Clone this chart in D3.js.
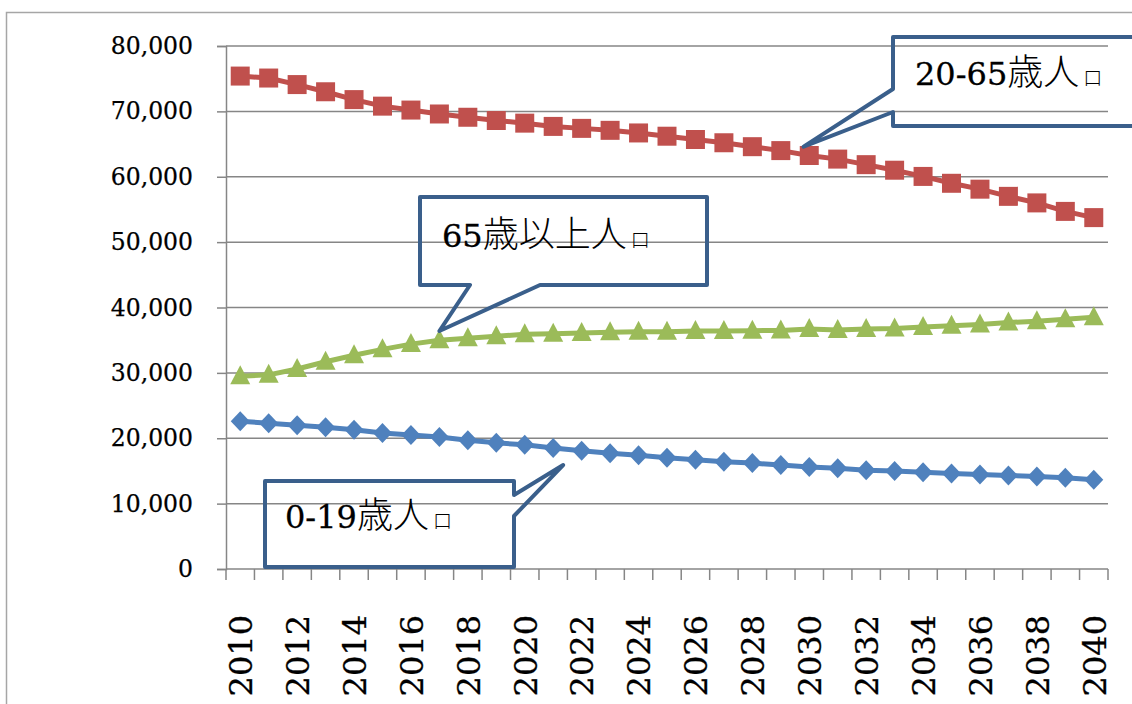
<!DOCTYPE html>
<html>
<head>
<meta charset="utf-8">
<script src="https://cdn.jsdelivr.net/npm/d3@7"></script>
<style>
  body { margin: 0; background: #fff; }
</style>
</head>
<body>
<div id="chart"></div>
<script>
// data (persons)
const years = d3.range(2010, 2041);
const yTicks = [0, 10000, 20000, 30000, 40000, 50000, 60000, 70000, 80000];
const xTickLabels = years.filter(y => y % 2 === 0);

const age0to19 = [22600, 22300, 22000, 21700, 21300, 20800, 20500, 20200, 19700, 19300,
  19000, 18500, 18100, 17700, 17400, 17000, 16700, 16400, 16200, 15900,
  15600, 15400, 15100, 15000, 14800, 14600, 14450, 14300, 14150, 13950, 13650];
const age20to65 = [75400, 75100, 74100, 73000, 71800, 70800, 70200, 69600, 69100, 68600,
  68200, 67700, 67400, 67100, 66700, 66200, 65700, 65200, 64600, 64000,
  63250, 62700, 61850, 61000, 60050, 59000, 58100, 57000, 56000, 54700, 53750];
const age65plus = [29500, 29700, 30600, 31700, 32700, 33600, 34400, 35000, 35300, 35600,
  35900, 36000, 36100, 36200, 36300, 36300, 36400, 36400, 36450, 36500,
  36700, 36550, 36700, 36800, 37000, 37200, 37400, 37700, 37900, 38200, 38500];

const series = [
  { name: "0-19", values: age0to19, color: "#4F81BD", marker: "diamond" },
  { name: "20-65", values: age20to65, color: "#C0504D", marker: "square" },
  { name: "65+", values: age65plus, color: "#9BBB59", marker: "triangle" }
];

// callouts: box in px, tip in data terms (year, value)
const callouts = [
  { num: "20-65", kanji: "歳人", box: [893, 37, 1145, 126], side: "left", notch: [89, 112], tip: [2029.8, 64600], text: [915, 85] },
  { num: "65", kanji: "歳以上人", box: [420, 197, 707, 285], side: "bottom", notch: [470, 540], tip: [2017, 36400], text: [442, 247] },
  { num: "0-19", kanji: "歳人", box: [265, 481, 514, 567], side: "right", notch: [495, 516], tip: [2021.35, 15900], text: [285, 528] }
];

const SERIF = "'DejaVu Serif', serif";
const CJK = "'Noto Sans CJK JP', sans-serif";

const width = 1132, height = 704;
const margin = { top: 46, right: 24, bottom: 135, left: 226 };

const svg = d3.select("#chart").append("svg")
  .attr("width", width)
  .attr("height", height);

// outer chart frame
svg.append("rect")
  .attr("x", 6.5).attr("y", 12.5)
  .attr("width", width + 20).attr("height", height + 20)
  .attr("fill", "none")
  .attr("stroke", "#a6a6a6")
  .attr("stroke-width", 1.5);

const x = d3.scaleBand()
  .domain(years)
  .range([margin.left, width - margin.right])
  .padding(0);

const y = d3.scaleLinear()
  .domain([0, 80000])
  .range([height - margin.bottom, margin.top]);

const xc = d => x(d) + x.bandwidth() / 2;
// fractional year -> px, for callout tips
const xYear = d3.scaleLinear().domain([2010, 2040]).range([xc(2010), xc(2040)]);

// gridlines
svg.append("g")
  .selectAll("line")
  .data(yTicks.filter(t => t > 0))
  .enter().append("line")
  .attr("x1", margin.left).attr("x2", width - margin.right)
  .attr("y1", d => y(d)).attr("y2", d => y(d))
  .attr("stroke", "#868686")
  .attr("stroke-width", 1.5);

// y axis
const yAxis = svg.append("g")
  .attr("transform", "translate(" + margin.left + ",0)")
  .call(d3.axisLeft(y).tickValues(yTicks).tickSize(9).tickPadding(24).tickFormat(d3.format(",")));
yAxis.attr("font-family", SERIF);
yAxis.select(".domain").attr("stroke", "#868686").attr("stroke-width", 1.5);
yAxis.selectAll(".tick line").attr("stroke", "#868686").attr("stroke-width", 1.5);
yAxis.selectAll("text")
  .style("font-family", SERIF)
  .style("font-size", "23.5px")
  .attr("fill", "#000")
  .attr("stroke", "#000")
  .attr("stroke-width", 0.25);

// x axis: ticks on category boundaries
const xAxisG = svg.append("g")
  .attr("transform", "translate(0," + y(0) + ")");
xAxisG.append("line")
  .attr("x1", margin.left).attr("x2", width - margin.right)
  .attr("stroke", "#868686").attr("stroke-width", 1.5);
xAxisG.selectAll(".tk")
  .data(years.concat([2041]))
  .enter().append("line")
  .attr("class", "tk")
  .attr("x1", d => d === 2041 ? x(2040) + x.bandwidth() : x(d))
  .attr("x2", d => d === 2041 ? x(2040) + x.bandwidth() : x(d))
  .attr("y1", 0).attr("y2", 11)
  .attr("stroke", "#868686").attr("stroke-width", 1.5);
xAxisG.selectAll(".lbl")
  .data(xTickLabels)
  .enter().append("text")
  .attr("class", "lbl")
  .attr("transform", d => "translate(" + xc(d) + ",46) rotate(-90)")
  .attr("dy", "0.37em")
  .attr("text-anchor", "end")
  .attr("stroke", "#000")
  .attr("stroke-width", 0.3)
  .style("font-family", SERIF)
  .style("font-size", "32px")
  .text(d => d);

// lines + markers
const line = d3.line()
  .x((d, i) => xc(years[i]))
  .y(d => y(d));

const symbols = {
  diamond: "M0,-10L9.5,0L0,10L-9.5,0Z",
  square: "M-9.5,-9.5H9.5V9.5H-9.5Z",
  triangle: "M0,-11L10,8H-10Z"
};

series.forEach(s => {
  svg.append("path")
    .datum(s.values)
    .attr("fill", "none")
    .attr("stroke", s.color)
    .attr("stroke-width", 5)
    .attr("d", line);

  svg.append("g")
    .selectAll("path")
    .data(s.values)
    .enter().append("path")
    .attr("transform", (d, i) => "translate(" + xc(years[i]) + "," + y(d) + ")")
    .attr("d", symbols[s.marker])
    .attr("fill", s.color);
});

// callouts (no fill, gridlines show through)
callouts.forEach(c => {
  const [l, t, r, b] = c.box;
  const tx = xYear(c.tip[0]), ty = y(c.tip[1]);
  let p;
  if (c.side === "left") {
    p = [[l, t], [r, t], [r, b], [l, b], [l, c.notch[1]], [tx, ty], [l, c.notch[0]]];
  } else if (c.side === "bottom") {
    p = [[l, t], [r, t], [r, b], [c.notch[1], b], [tx, ty], [c.notch[0], b], [l, b]];
  } else {
    p = [[l, t], [r, t], [r, c.notch[0]], [tx, ty], [r, c.notch[1]], [r, b], [l, b]];
  }
  svg.append("path")
    .attr("d", d3.line()(p) + "Z")
    .attr("fill", "none")
    .attr("stroke", "#3A5F8B")
    .attr("stroke-width", 4)
    .attr("stroke-linejoin", "round");

  const txt = svg.append("text")
    .attr("x", c.text[0])
    .attr("y", c.text[1])
    .style("font-family", SERIF)
    .style("font-size", "32px");
  txt.append("tspan").attr("stroke", "#000").attr("stroke-width", 0.3).text(c.num);
  txt.append("tspan").style("font-family", CJK).style("font-size", "36px").style("font-weight", 300).text(c.kanji);
  txt.append("tspan").style("font-family", CJK).attr("dx", 4).style("font-size", "19px").style("font-weight", 300).text("口");
});
</script>
</body>
</html>
